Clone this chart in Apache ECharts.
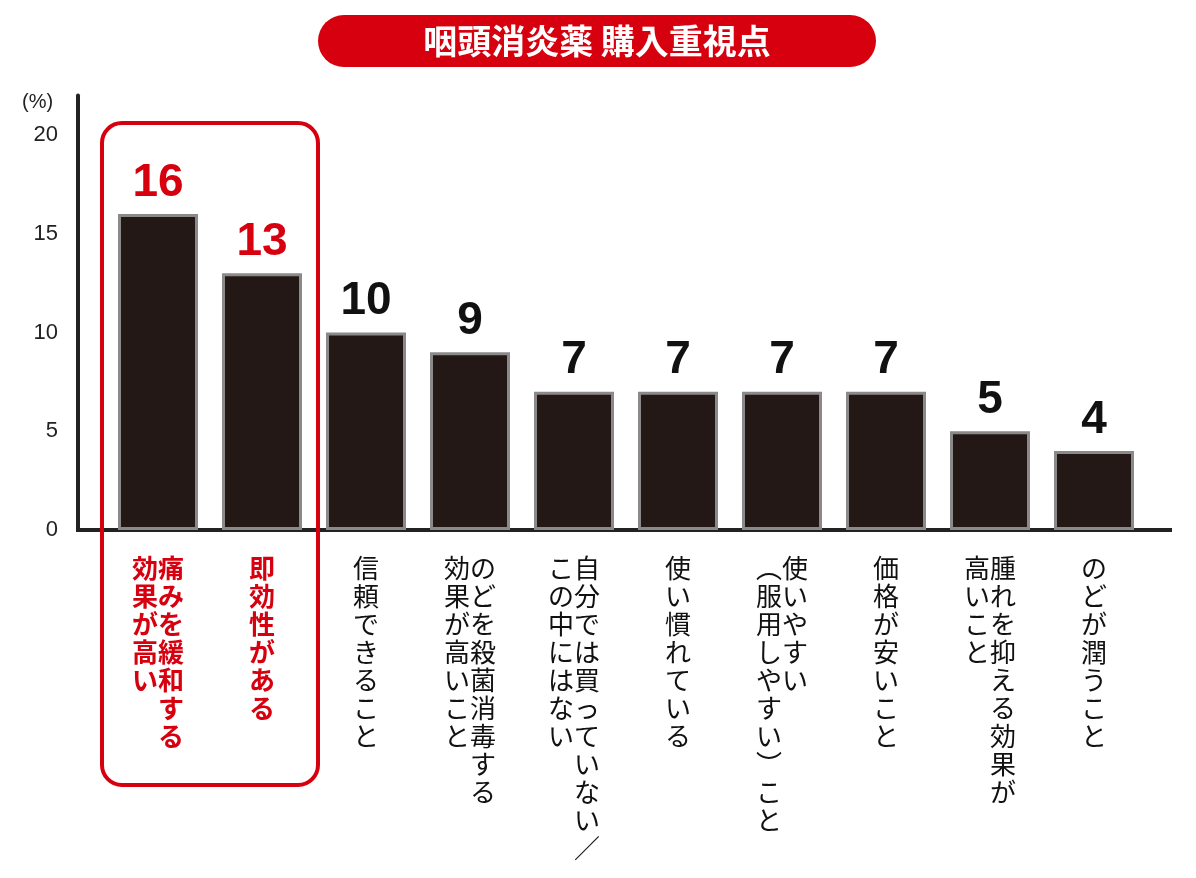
<!DOCTYPE html>
<html>
<head>
<meta charset="utf-8">
<script src="https://cdn.jsdelivr.net/npm/echarts@6/dist/echarts.min.js"></script>
<style>html,body{margin:0;padding:0;background:#fff;}#chart{width:1196px;height:878px;}</style>
</head>
<body>
<div id="chart"></div>
<script>
// 縦書きラベル（右の列から順に）
var categories = [
    ["痛みを緩和する", "効果が高い"],
    ["即効性がある"],
    ["信頼できること"],
    ["のどを殺菌消毒する", "効果が高いこと"],
    ["自分では買っていない／", "この中にはない"],
    ["使い慣れている"],
    ["使いやすい", "︵服用しやすい︶こと"],
    ["価格が安いこと"],
    ["腫れを抑える効果が", "高いこと"],
    ["のどが潤うこと"]
];
var values = [16, 13, 10, 9, 7, 7, 7, 7, 5, 4];
var yTicks = [0, 5, 10, 15, 20];

var RED = '#d7000f';

function vertical(cols) {
    var n = 0, rows = [];
    cols.forEach(function (c) { n = Math.max(n, Array.from(c).length); });
    for (var r = 0; r < n; r++) {
        var line = '';
        for (var k = cols.length - 1; k >= 0; k--) {
            line += Array.from(cols[k])[r] || '　';
        }
        rows.push(line);
    }
    return rows.join('\n');
}

var labels = categories.map(vertical);

var chart = echarts.init(document.getElementById('chart'));
var option = {
    animation: false,
    grid: {left: 106, width: 1040, top: 95.5, height: 434.5},
    xAxis: {
        type: 'category',
        data: labels,
        axisLine: {show: false},
        axisTick: {show: false},
        axisLabel: {
            interval: 0,
            margin: 24,
            fontSize: 26,
            lineHeight: 28,
            fontFamily: 'Noto Sans CJK JP',
            color: '#111',
            formatter: function (v, i) {
                return i < 2 ? '{r|' + v.split('\n').join('}\n{r|') + '}' : v;
            },
            rich: {r: {color: RED, fontWeight: 'bold', fontSize: 26, lineHeight: 28, fontFamily: 'Noto Sans CJK JP'}}
        }
    },
    yAxis: {
        type: 'value',
        min: 0, max: 22, interval: 5,
        offset: 28,
        axisLine: {show: true, lineStyle: {color: '#222', width: 4}},
        axisTick: {show: false},
        splitLine: {show: false},
        axisLabel: {
            fontSize: 22, color: '#222', margin: 20, fontFamily: 'Liberation Sans',
            formatter: function (v) { return yTicks.indexOf(v) >= 0 ? v : ''; }
        }
    },
    series: [{
        type: 'bar',
        barWidth: 80,
        data: values.map(function (v, i) {
            return {value: v, label: {color: i < 2 ? RED : '#111'}};
        }),
        itemStyle: {color: '#231815', borderColor: '#8a8a8a', borderWidth: 3},
        label: {
            show: true, position: 'top', distance: 8,
            fontSize: 46, fontWeight: 'bold', fontFamily: 'Liberation Sans'
        }
    }],
    graphic: [
        {type: 'line', shape: {x1: 76, y1: 530, x2: 1172, y2: 530}, style: {stroke: '#222', lineWidth: 4}},
        {type: 'text', left: 22, top: 92, style: {text: '(%)', fontSize: 20, fill: '#222', fontFamily: 'Liberation Sans'}},
        {type: 'rect', shape: {x: 102, y: 123, width: 216, height: 662, r: 20},
         style: {fill: 'none', stroke: RED, lineWidth: 4}},
        {type: 'rect', shape: {x: 318, y: 15, width: 558, height: 52, r: 26}, style: {fill: RED}},
        {type: 'text', x: 597, y: 41,
         style: {text: '咽頭消炎薬 購入重視点', fill: '#fff', fontSize: 34, fontWeight: 'bold',
                 fontFamily: 'Noto Sans CJK JP', align: 'center', verticalAlign: 'middle'}}
    ]
};
chart.setOption(option);
</script>
</body>
</html>
